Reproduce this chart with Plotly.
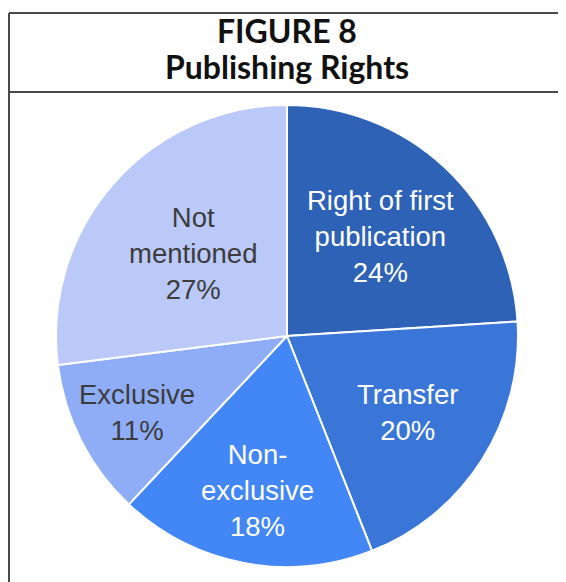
import math
import plotly.graph_objects as go

# ---- data ----
labels = ["Right of first publication", "Transfer", "Non-exclusive", "Exclusive", "Not mentioned"]
label_lines = ["Right of first<br>publication", "Transfer", "Non-<br>exclusive", "Exclusive", "Not<br>mentioned"]
values = [24, 20, 18, 11, 27]
colors = ["#2E62B6", "#3A76D8", "#4287F5", "#8FADF7", "#BBC9F8"]
text_colors = ["#FFFFFF", "#FFFFFF", "#FFFFFF", "#3C3C3C", "#3C3C3C"]
label_radius = [0.59, 0.62, 0.68, 0.73, 0.54]  # fraction of radius for label placement
title_lines = ["FIGURE 8", "Publishing Rights"]

OFF = 8  # page body margin
W, H = 566 - OFF, 582 - OFF
cx, cy, R = 287 - OFF, 336 - OFF, 231

fig = go.Figure()
fig.add_trace(go.Pie(
    labels=labels, values=values, sort=False, direction="clockwise", rotation=0,
    marker=dict(colors=colors, line=dict(color="white", width=2)),
    textinfo="none", hoverinfo="label+percent", showlegend=False,
    domain=dict(x=[(cx - R) / W, (cx + R) / W], y=[1 - (cy + R) / H, 1 - (cy - R) / H]),
))

total = sum(values)
cum = 0
annotations = []
for lab, v, tc, rf in zip(label_lines, values, text_colors, label_radius):
    mid = (cum + v / 2) / total * 2 * math.pi
    cum += v
    px = cx + rf * R * math.sin(mid)
    py = cy - rf * R * math.cos(mid)
    annotations.append(dict(
        x=px / W, y=1 - py / H, xref="paper", yref="paper", showarrow=False,
        xanchor="center", yanchor="middle",
        text=f"{lab}<br>{round(v / total * 100)}%", align="center",
        font=dict(family="Liberation Sans, Arial", size=27.5, color=tc),
    ))

for i, t in enumerate(title_lines):
    annotations.append(dict(
        x=(287 - OFF) / W, y=1 - (30 + 36 * i - OFF) / H, xref="paper", yref="paper", showarrow=False,
        text=f"<b>{t}</b>", font=dict(family="Lato", size=32, color="#111111", weight=900),
        xanchor="center", yanchor="middle",
    ))

line_style = dict(color="#4a4a4a", width=2)
shapes = [
    dict(type="line", xref="paper", yref="paper", x0=(9 - OFF) / W, x1=1, y0=1 - (13 - OFF) / H, y1=1 - (13 - OFF) / H, line=line_style),
    dict(type="line", xref="paper", yref="paper", x0=(9 - OFF) / W, x1=1, y0=1 - (92 - OFF) / H, y1=1 - (92 - OFF) / H, line=line_style),
    dict(type="line", xref="paper", yref="paper", x0=(9 - OFF) / W, x1=(9 - OFF) / W, y0=1 - (13 - OFF) / H, y1=0, line=line_style),
]

fig.update_layout(
    width=W, height=H, margin=dict(l=0, r=0, t=0, b=0),
    paper_bgcolor="white", plot_bgcolor="white",
    annotations=annotations, shapes=shapes,
)
fig.write_html("out.html")
